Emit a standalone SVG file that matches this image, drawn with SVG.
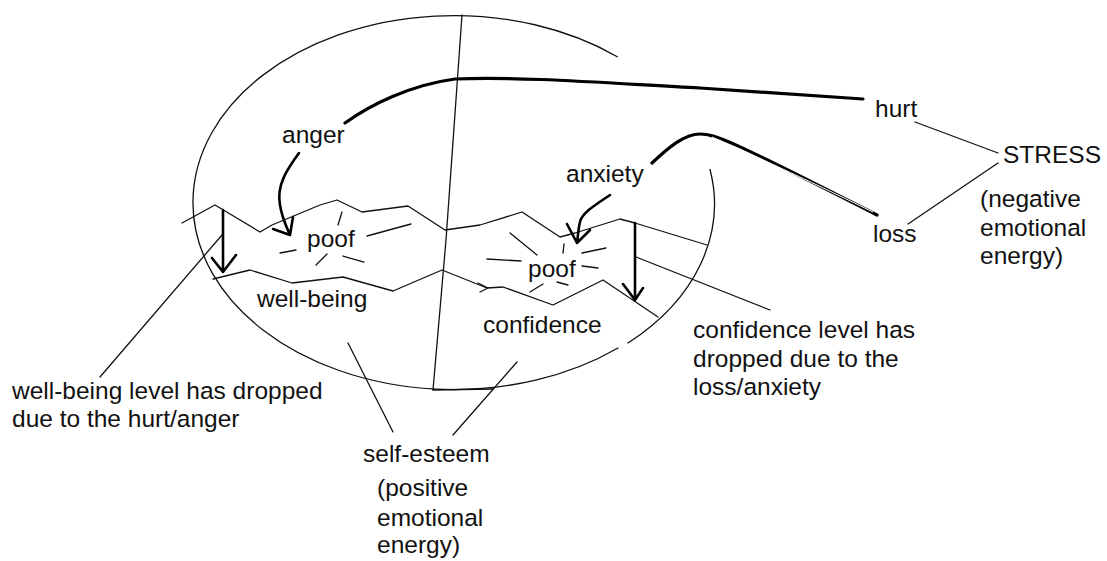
<svg xmlns="http://www.w3.org/2000/svg" width="1107" height="561" viewBox="0 0 1107 561">
<style>
text{font-family:"Liberation Sans",Arial,sans-serif;font-size:24.5px;fill:#111}
.thin{fill:none;stroke:#111;stroke-width:1.3;stroke-linejoin:round;stroke-linecap:round}
.thick{fill:none;stroke:#000;stroke-width:3.2;stroke-linecap:round;stroke-linejoin:round}
.mid{fill:none;stroke:#000;stroke-width:2.6;stroke-linecap:round;stroke-linejoin:round}
</style>
<rect width="1107" height="561" fill="#fff"/>
<g id="self-esteem-ellipse">
<path class="thin" d="M710,169.5 A261,187 0 0 1 628,343"/>
<path class="thin" d="M618,348 A261,187 0 1 1 617.3,56.7"/>
<path class="thin" d="M462,15 L446,240 L433,390"/>
<path class="thin" d="M433,390 L493,389"/>
</g>
<g id="layer-lines">
<path class="thin" d="M182,223 L215,205 L260,232 L272,225 L320,205 L337,200 L362,212 L408,206 L445,230 L480,225 L522,212 L560,237 L575,233 L620,219 L635,223 L707,245"/>
<path class="thin" d="M213,279 L250,270 L292,283 L343,277 L393,291 L442,270 L487,288 L503,287 L553,305 L603,280 L658,317"/>
<path class="thin" d="M478,283 L488,288 L480,292"/>
</g>
<g id="poof-left">
<text x="307" y="247">poof</text>
<path class="thin" d="M342,212 L338,225 M367,236 L411,224 M280,253 L296,250 M316,265 L327,254 M343,256 L364,262"/>
</g>
<g id="poof-right">
<text x="528" y="277">poof</text>
<path class="thin" d="M510,233 L537,255 M487,259 L521,261 M564,244 L563,253 M582,253 L606,248 M582,266 L598,268 M530,292 L543,284 M557,282 L568,285"/>
</g>
<g id="connectors">
<path class="thick" d="M345,123 C370,105 410,85 455,79 C520,76 620,84 700,88 L863,99"/>
<path class="thick" d="M652,163 C668,148 684,134 700,134 C715,134 730,140 877,215" stroke-width="4.5"/>
<path d="M712,137 C760,158 820,186 873,212" fill="none" stroke="#fff" stroke-width="1"/>
<path class="mid" d="M299,153 C288,168 276,185 280,205 C282,218 287,228 290,235 M273,229 L290,235 L293,217"/>
<path class="mid" d="M610,195 C595,205 582,213 580,222 C578,230 578,237 577,243 M567,224 L577,243 L590,230"/>
<path class="mid" d="M223,210 L223,272 M212,258 L223,272 L236,255"/>
<path class="mid" d="M635,223 L635,300 M623,284 L635,300 L643,288"/>
<path class="thin" d="M915,122 L998,153 M908,224 L998,163"/>
<path class="thin" d="M100,377 L222,235"/>
<path class="thin" d="M636,257 L770,310"/>
<path class="thin" d="M348,343 L393,432 M453,435 L517,362"/>
</g>
<g id="hurt"><text x="875" y="117">hurt</text></g>
<g id="loss"><text x="873" y="242">loss</text></g>
<g id="stress"><text x="1003" y="163">STRESS</text>
<text x="980" y="207">(negative</text>
<text x="980" y="236">emotional</text>
<text x="980" y="264">energy)</text></g>
<g id="anger"><text x="282" y="143">anger</text></g>
<g id="anxiety"><text x="566" y="182">anxiety</text></g>
<g id="well-being"><text x="257" y="307">well-being</text></g>
<g id="confidence"><text x="483" y="333">confidence</text></g>
<g id="confidence-note"><text x="693" y="338">confidence level has</text>
<text x="693" y="367">dropped due to the</text>
<text x="693" y="395">loss/anxiety</text></g>
<g id="well-being-note"><text x="12" y="399">well-being level has dropped</text>
<text x="12" y="427">due to the hurt/anger</text></g>
<g id="self-esteem"><text x="363" y="462">self-esteem</text>
<text x="377" y="496">(positive</text>
<text x="377" y="526">emotional</text>
<text x="377" y="553">energy)</text></g>
</svg>
